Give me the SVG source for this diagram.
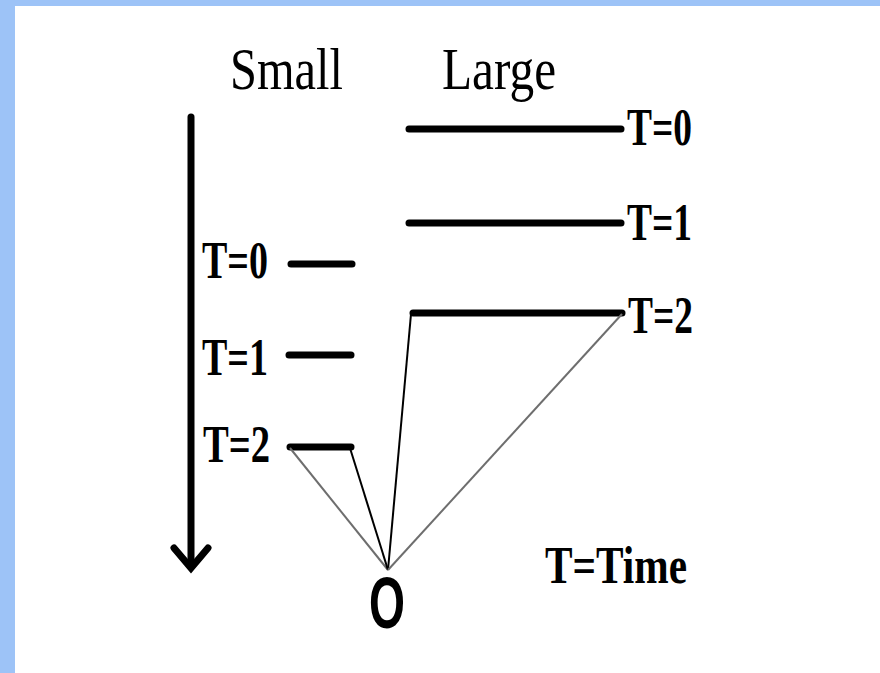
<svg xmlns="http://www.w3.org/2000/svg" width="880" height="673" viewBox="0 0 880 673">
<style>
.bar{stroke:#000;stroke-width:7;stroke-linecap:round;fill:none}
.lbl{font-family:"Liberation Serif","Times New Roman",serif;font-weight:bold;font-size:52px;fill:#000}
.head{font-family:"Liberation Serif","Times New Roman",serif;font-size:60px;fill:#000}
.thin{stroke:#000;stroke-width:2;fill:none}
.gray{stroke:#6e6e6e;stroke-width:2;fill:none}
</style>
<rect x="0" y="0" width="880" height="673" fill="#fff"/>
<rect x="0" y="0" width="880" height="6" fill="#9dc3f7"/>
<rect x="0" y="0" width="15" height="673" fill="#9dc3f7"/>
<g id="headings">
<text class="head" x="230" y="89" textLength="113" lengthAdjust="spacingAndGlyphs">Small</text>
<text class="head" x="442" y="89" textLength="114" lengthAdjust="spacingAndGlyphs">Large</text>
</g>
<g id="time-axis">
<line x1="191" y1="117" x2="191" y2="562" stroke="#000" stroke-width="7" stroke-linecap="round"/>
<polyline points="174,548 191,568 208,548" fill="none" stroke="#000" stroke-width="7" stroke-linejoin="miter" stroke-linecap="round"/>
</g>
<g id="small-t0">
<line class="bar" x1="291" y1="264" x2="352" y2="264"/>
<text class="lbl" x="202" y="278" textLength="66" lengthAdjust="spacingAndGlyphs">T=0</text>
</g>
<g id="small-t1">
<line class="bar" x1="289" y1="355" x2="351" y2="355"/>
<text class="lbl" x="202" y="375" textLength="66" lengthAdjust="spacingAndGlyphs">T=1</text>
</g>
<g id="small-t2">
<line class="bar" x1="290" y1="447" x2="351" y2="447"/>
<text class="lbl" x="203" y="462" textLength="67" lengthAdjust="spacingAndGlyphs">T=2</text>
</g>
<g id="large-t0">
<line class="bar" x1="409" y1="129" x2="621" y2="129"/>
<text class="lbl" x="627" y="145" textLength="65" lengthAdjust="spacingAndGlyphs">T=0</text>
</g>
<g id="large-t1">
<line class="bar" x1="409" y1="223" x2="621" y2="223"/>
<text class="lbl" x="627" y="240" textLength="65" lengthAdjust="spacingAndGlyphs">T=1</text>
</g>
<g id="large-t2">
<line class="bar" x1="413" y1="313" x2="622" y2="313"/>
<text class="lbl" x="628" y="333" textLength="65" lengthAdjust="spacingAndGlyphs">T=2</text>
</g>
<g id="origin">
<text x="369" y="628" font-family="Liberation Sans, Arial, sans-serif" font-weight="bold" font-size="72" textLength="36" lengthAdjust="spacingAndGlyphs">O</text>
</g>
<g id="legend">
<text class="lbl" x="545" y="583" textLength="142" lengthAdjust="spacingAndGlyphs">T=Time</text>
</g>
<g id="connectors">
<line class="gray" x1="290" y1="448" x2="388" y2="570"/>
<line class="thin" x1="350" y1="448" x2="388" y2="570"/>
<line class="thin" x1="411" y1="314" x2="388" y2="570"/>
<line class="gray" x1="622" y1="314" x2="388" y2="570"/>
</g>
</svg>
